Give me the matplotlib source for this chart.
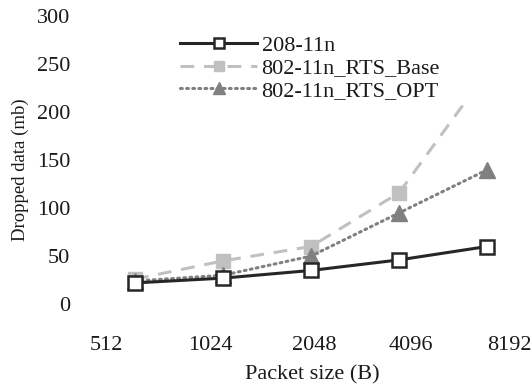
from matplotlib import pyplot as plt
import numpy as np

plt.rcParams['font.family'] = ['Liberation Serif', 'DejaVu Serif']

packet_sizes = ["512", "1024", "2048", "4096", "8192"]
n11 = [22, 27, 35, 46, 60]
rts_base = [26, 45, 60, 116, 242]
rts_opt = [24, 30, 50, 95, 140]

W, H = 532, 389
FS = 16
TXT = '#1a1a1a'
fig = plt.figure(figsize=(W / 100, H / 100), dpi=100)

# plot area in pixels: y=0 at 304, y=300 at 16.5
left, right, top, bottom = 80, 520, 16.5, 304
ax = fig.add_axes([left / W, 1 - bottom / H, (right - left) / W, (bottom - top) / H])

x = np.arange(len(packet_sizes))
ax.plot(x, n11, color='#262626', lw=2.2, marker='s', ms=10.5,
        mfc='white', mec='#262626', mew=1.8, label='208-11n', zorder=4)
ax.plot(x, rts_base, color='#c0c0c0', lw=2.2, dashes=(4.5, 3.2), marker='s',
        ms=10.5, mfc='#c0c0c0', mec='#c0c0c0', label='802-11n_RTS_Base', zorder=2)
ax.plot(x, rts_opt, color='#808080', lw=2.2, linestyle=(0, (0.6, 1.4)),
        dash_capstyle='round', marker='^', ms=11, mfc='#808080', mec='#808080',
        label='802-11n_RTS_OPT', zorder=3)

px = 88.0  # pixels per category
x0 = 135
ax.set_xlim((left - x0) / px, (right - x0) / px)
ax.set_ylim(0, 300)

# category labels sit on their own spacing
label_px = [106, 210, 314, 411, 509]
ax.set_xticks([(p - x0) / px for p in label_px])
ax.set_xticklabels(packet_sizes)
ax.set_yticks(range(0, 301, 50))
ax.tick_params(axis='x', length=0, pad=23, labelsize=FS, colors=TXT)
ax.tick_params(axis='y', length=0, pad=7, labelsize=FS, colors=TXT)
for s in ax.spines.values():
    s.set_visible(False)

fig.text(312.5 / W, 1 - 375 / H, 'Packet size (B)', fontsize=FS, color=TXT,
         ha='center', va='center')
fig.text(20 / W, 1 - 170 / H, 'Dropped data (mb)', fontsize=13.5, color=TXT,
         ha='center', va='center', rotation=90)

# legend box, white, stretched to the right edge of the plot
lx0, ly_top, ly_bot = 176, 31, 107
leg = ax.legend(loc='upper left',
                bbox_to_anchor=((lx0 - left) / (right - left), (bottom - ly_bot) / (bottom - top),
                                (right - lx0) / (right - left), (ly_bot - ly_top) / (bottom - top)),
                mode='expand', frameon=True, fancybox=False, edgecolor='none',
                facecolor='white', framealpha=1, fontsize=FS, handlelength=3.45,
                handletextpad=0.2, labelspacing=0.08, borderpad=0.2, borderaxespad=0,
                markerscale=0.75)
for t in leg.get_texts():
    t.set_color(TXT)

fig.savefig('out.png', dpi=100)
